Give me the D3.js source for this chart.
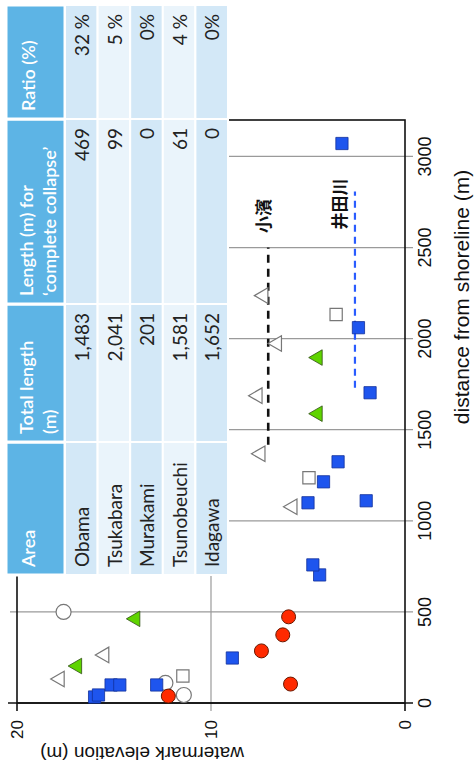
<!DOCTYPE html>
<html>
<head>
<meta charset="utf-8">
<script src="https://cdn.jsdelivr.net/npm/d3@7"></script>
<style>
  body { margin: 0; background: #fff; }
</style>
</head>
<body>
<div id="chart"></div>
<script>
/////////////////////////////////////////////////////////////
//////////////////////// Data //////////////////////////////
/////////////////////////////////////////////////////////////

// each point: d = distance from shoreline (m), e = watermark elevation (m)
var redCircles = [
  { d: 38, e: 12.2 }, { d: 104, e: 5.9 }, { d: 286, e: 7.4 },
  { d: 374, e: 6.3 }, { d: 473, e: 6.0 }
];
var blueSquares = [
  { d: 33, e: 16.0 }, { d: 44, e: 15.8 }, { d: 99, e: 15.15 }, { d: 99, e: 14.7 },
  { d: 99, e: 12.8 }, { d: 247, e: 8.9 }, { d: 703, e: 4.4 }, { d: 758, e: 4.75 },
  { d: 1099, e: 5.0 }, { d: 1110, e: 2.0 }, { d: 1214, e: 4.2 }, { d: 1324, e: 3.45 },
  { d: 1703, e: 1.8 }, { d: 2060, e: 2.4 }, { d: 3071, e: 3.25 }
];
var openSquares = [{ d: 148, e: 11.45 }, { d: 1236, e: 4.95 }, { d: 2132, e: 3.55 }];
var openCircles = [{ d: 44, e: 11.4 }, { d: 110, e: 12.35 }, { d: 500, e: 17.6 }];
var openTriangles = [
  { d: 132, e: 17.8 }, { d: 264, e: 15.5 }, { d: 1077, e: 5.8 }, { d: 1368, e: 7.45 },
  { d: 1687, e: 7.6 }, { d: 1973, e: 6.6 }, { d: 2236, e: 7.3 }
];
var greenTriangles = [{ d: 203, e: 16.9 }, { d: 462, e: 13.9 }, { d: 1588, e: 4.5 }, { d: 1896, e: 4.5 }];

// dashed ranges with their labels
var kohamaLine = { d0: 1418, d1: 2500, e: 7.05, label: "小濱", ld: 2673, le: 7.3 };
var idagawaLine = { d0: 1731, d1: 2808, e: 2.58, label: "井田川", ld: 2739, le: 3.35 };

var distTicks = [0, 500, 1000, 1500, 2000, 2500, 3000];
var elevTicks = [0, 10, 20];

// table
var tableHeaders = [["Area"], ["Total length", "(m)"], ["Length (m) for", "‘complete collapse’"], ["Ratio (%)"]];
var areas = ["Obama", "Tsukabara", "Murakami", "Tsunobeuchi", "Idagawa"];
var totalLength = ["1,483", "2,041", "201", "1,581", "1,652"];
var collapseLength = ["469", "99", "0", "61", "0"];
var ratio = ["32 %", "5 %", "0%", "4 %", "0%"];

/////////////////////////////////////////////////////////////
///////////////////// Chart ////////////////////////////////
/////////////////////////////////////////////////////////////

var W = 765, H = 474;   // the chart is drawn upright, then turned a quarter to the left

var svg = d3.select("#chart").append("svg")
  .attr("width", 474)
  .attr("height", 765);

var g = svg.append("g")
  .attr("transform", "translate(0," + W + ") rotate(-90)");

var x = d3.scaleLinear().domain([0, 3200]).range([62, 645]);
var y = d3.scaleLinear().domain([0, 20]).range([405, 17]);

// grid lines (they run a bit past the frame, like ticks)
g.selectAll(".vgrid")
  .data(distTicks.slice(1)).enter().append("line")
  .attr("x1", d => x(d)).attr("x2", d => x(d))
  .attr("y1", 10).attr("y2", 413)
  .attr("stroke", "#9a9a9a").attr("stroke-width", 1.2);

g.selectAll(".hgrid")
  .data([10]).enter().append("line")
  .attr("x1", 54).attr("x2", x(3200))
  .attr("y1", d => y(d)).attr("y2", d => y(d))
  .attr("stroke", "#9a9a9a").attr("stroke-width", 1.2);

// frame
g.append("rect")
  .attr("x", x(0)).attr("y", y(20))
  .attr("width", x(3200) - x(0)).attr("height", y(0) - y(20))
  .attr("fill", "none").attr("stroke", "#111").attr("stroke-width", 1.6);

// tick stubs on the frame
g.append("line").attr("x1", x(0)).attr("x2", x(0)).attr("y1", 8).attr("y2", 413)
  .attr("stroke", "#111").attr("stroke-width", 1.6);
g.selectAll(".etick")
  .data([0, 20]).enter().append("line")
  .attr("x1", 54).attr("x2", x(0))
  .attr("y1", d => y(d)).attr("y2", d => y(d))
  .attr("stroke", "#111").attr("stroke-width", 1.6);

// dashed ranges
[kohamaLine, idagawaLine].forEach(function (l, i) {
  g.append("line")
    .attr("x1", x(l.d0)).attr("x2", x(l.d1))
    .attr("y1", y(l.e)).attr("y2", y(l.e))
    .attr("stroke", i == 0 ? "#111" : "#2a5cff")
    .attr("stroke-width", i == 0 ? 2.6 : 2.2)
    .attr("stroke-dasharray", i == 0 ? "8,6" : "7,5");
  g.append("text")
    .attr("x", x(l.ld)).attr("y", y(l.le))
    .attr("dy", "0.36em")
    .attr("text-anchor", "middle")
    .style("font-family", "'Noto Sans CJK JP', sans-serif")
    .style("font-size", "17px")
    .style("font-weight", "bold")
    .style("fill", "#111")
    .text(l.label);
});

// markers
var tri = d3.symbol().type(d3.symbolTriangle).size(105);
var sq = d3.symbol().type(d3.symbolSquare).size(150);

g.selectAll(".osq")
  .data(openSquares).enter().append("path")
  .attr("d", sq)
  .attr("transform", d => "translate(" + x(d.d) + "," + y(d.e) + ")")
  .attr("fill", "#fff").attr("stroke", "#777").attr("stroke-width", 1.2);

g.selectAll(".ocirc")
  .data(openCircles).enter().append("circle")
  .attr("cx", d => x(d.d)).attr("cy", d => y(d.e))
  .attr("r", 7.5)
  .attr("fill", "#fff").attr("stroke", "#777").attr("stroke-width", 1.2);

g.selectAll(".otri")
  .data(openTriangles).enter().append("path")
  .attr("d", tri)
  .attr("transform", d => "translate(" + x(d.d) + "," + y(d.e) + ")")
  .attr("fill", "#fff").attr("stroke", "#777").attr("stroke-width", 1.2);

g.selectAll(".gtri")
  .data(greenTriangles).enter().append("path")
  .attr("d", tri)
  .attr("transform", d => "translate(" + x(d.d) + "," + y(d.e) + ")")
  .attr("fill", "#5fd400").attr("stroke", "#2d4d10").attr("stroke-width", 0.8);

g.selectAll(".bsq")
  .data(blueSquares).enter().append("path")
  .attr("d", sq)
  .attr("transform", d => "translate(" + x(d.d) + "," + y(d.e) + ")")
  .attr("fill", "#1e55ee").attr("stroke", "#12309a").attr("stroke-width", 0.8);

g.selectAll(".rcirc")
  .data(redCircles).enter().append("circle")
  .attr("cx", d => x(d.d)).attr("cy", d => y(d.e))
  .attr("r", 7)
  .attr("fill", "#ff2a00").attr("stroke", "#6a1800").attr("stroke-width", 1);

// tick labels
g.selectAll(".xlab")
  .data(distTicks).enter().append("text")
  .attr("x", d => x(d)).attr("y", 431)
  .attr("text-anchor", "middle")
  .style("font-family", "'Liberation Sans', Arial, sans-serif")
  .style("font-size", "18px")
  .style("fill", "#111")
  .text(d => d);

g.selectAll(".ylab")
  .data(elevTicks).enter().append("text")
  .attr("x", 45).attr("y", d => y(d))
  .attr("dy", "0.36em")
  .attr("text-anchor", "end")
  .style("font-family", "'Liberation Sans', Arial, sans-serif")
  .style("font-size", "17px")
  .style("fill", "#111")
  .text(d => d);

// axis titles
g.append("text")
  .attr("x", 468).attr("y", 469)
  .attr("text-anchor", "middle")
  .style("font-family", "'Liberation Sans', Arial, sans-serif")
  .style("font-size", "21px")
  .style("fill", "#111")
  .text("distance from shoreline (m)");

g.append("text")
  .attr("transform", "translate(18,142) rotate(-90)")
  .attr("text-anchor", "middle")
  .style("font-family", "'Liberation Sans', Arial, sans-serif")
  .style("font-size", "19px")
  .style("fill", "#111")
  .text("watermark elevation (m)");

/////////////////////////////////////////////////////////////
///////////////////// Table ////////////////////////////////
/////////////////////////////////////////////////////////////

var colEdges = [190, 323, 461, 646, 760];
var headTop = 6, headBottom = 65, rowTop = 65, rowH = 32.6;
var rowFill = ["#d3e8f7", "#eaf4fb"];
var columns = [areas, totalLength, collapseLength, ratio];
var tableFont = "Lato, 'Open Sans', sans-serif";

var table = g.append("g");

tableHeaders.forEach(function (h, c) {
  table.append("rect")
    .attr("x", colEdges[c]).attr("y", headTop)
    .attr("width", colEdges[c + 1] - colEdges[c]).attr("height", headBottom - headTop)
    .attr("fill", "#5db4e5").attr("stroke", "#fff").attr("stroke-width", 3);
  h.forEach(function (line, k) {
    table.append("text")
      .attr("x", colEdges[c] + 8)
      .attr("y", h.length == 1 ? 35 : 33 + k * 23)
      .style("font-family", tableFont)
      .style("font-size", "18px")
      .style("font-weight", "600")
      .style("fill", "#fff")
      .text(line);
  });
});

areas.forEach(function (a, r) {
  columns.forEach(function (col, c) {
    table.append("rect")
      .attr("x", colEdges[c]).attr("y", rowTop + r * rowH)
      .attr("width", colEdges[c + 1] - colEdges[c]).attr("height", rowH)
      .attr("fill", rowFill[r % 2]).attr("stroke", "#fff").attr("stroke-width", 2);
    table.append("text")
      .attr("x", c == 0 ? colEdges[c] + 8 : colEdges[c + 1] - 9)
      .attr("y", rowTop + r * rowH + 24)
      .attr("text-anchor", c == 0 ? "start" : "end")
      .style("font-family", tableFont)
      .style("font-size", "19px")
      .style("fill", "#222")
      .text(col[r]);
  });
});
</script>
</body>
</html>
